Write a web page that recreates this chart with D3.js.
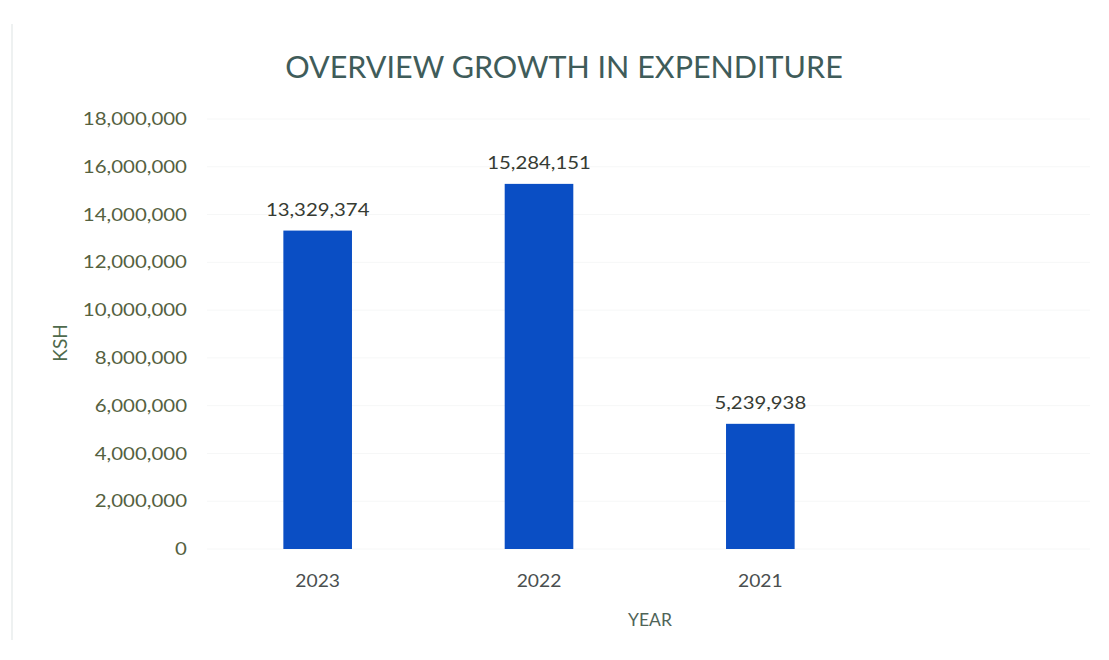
<!DOCTYPE html>
<html>
<head>
<meta charset="utf-8">
<script src="https://cdn.jsdelivr.net/npm/d3@7/dist/d3.min.js"></script>
<style>
  html, body { margin: 0; padding: 0; background: #ffffff; }
  svg { display: block; }
</style>
</head>
<body>
<svg id="chart" width="1109" height="660"></svg>
<script>
// Expenditure per year (KSH)
const years = ["2023", "2022", "2021"];
const expenditure = [13329374, 15284151, 5239938];
const yTicks = [0, 2000000, 4000000, 6000000, 8000000, 10000000, 12000000, 14000000, 16000000, 18000000];

const chartTitle = "OVERVIEW GROWTH IN EXPENDITURE";
const yTitle = "KSH";
const xTitle = "YEAR";

const svg = d3.select("#chart");
const fontFamily = "Lato, 'Open Sans', 'DejaVu Sans', sans-serif";

// Plot area
const plot = { left: 207, right: 871, top: 119, bottom: 549 };

const x = d3.scaleBand()
  .domain(years)
  .range([plot.left, plot.right])
  .paddingInner(0.69)
  .paddingOuter(0.345);

const y = d3.scaleLinear()
  .domain([0, 18000000])
  .range([plot.bottom, plot.top]);

const fmt = d3.format(",");

// Faint frame line on the left edge
svg.append("line")
  .attr("x1", 12).attr("x2", 12)
  .attr("y1", 24).attr("y2", 640)
  .attr("stroke", "#eef1f1").attr("stroke-width", 2);

// Gridlines (very faint)
svg.append("g")
  .selectAll("line")
  .data(yTicks)
  .join("line")
  .attr("x1", plot.left).attr("x2", 1090)
  .attr("y1", d => y(d)).attr("y2", d => y(d))
  .attr("stroke", "#f6f7f7").attr("stroke-width", 1);

// Title
svg.append("text")
  .attr("x", 564).attr("y", 78)
  .attr("text-anchor", "middle")
  .attr("font-family", fontFamily)
  .attr("font-size", 30.5)
  .attr("fill", "#3f5c5a")
  .text(chartTitle);

// Y axis labels (slightly wide lettering)
const yAxis = d3.axisLeft(y)
  .tickValues(yTicks)
  .tickFormat(fmt)
  .tickSize(0)
  .tickPadding(0);

const gy = svg.append("g")
  .attr("transform", `translate(${plot.left - 20},0)`)
  .call(yAxis);
gy.select(".domain").remove();
gy.selectAll("text")
  .attr("font-family", fontFamily)
  .attr("font-size", 17.5)
  .attr("fill", "#55613f")
  .attr("transform", "scale(1.17,1)");

// X axis labels
const xAxis = d3.axisBottom(x).tickSize(0).tickPadding(0);
const gx = svg.append("g")
  .attr("transform", `translate(0,${plot.bottom + 25})`)
  .call(xAxis);
gx.select(".domain").remove();
gx.selectAll("text")
  .attr("font-family", fontFamily)
  .attr("font-size", 18)
  .attr("fill", "#4a4f4f")
  .attr("transform", "scale(1.07,1)");

// Bars
svg.append("g")
  .selectAll("rect")
  .data(years)
  .join("rect")
  .attr("x", d => x(d))
  .attr("y", (d, i) => y(expenditure[i]))
  .attr("width", x.bandwidth())
  .attr("height", (d, i) => plot.bottom - y(expenditure[i]))
  .attr("fill", "#0a4ec4");

// Value labels
svg.append("g")
  .selectAll("text")
  .data(years)
  .join("text")
  .attr("transform", (d, i) =>
    `translate(${x(d) + x.bandwidth() / 2},${y(expenditure[i]) - 15}) scale(1.13,1)`)
  .attr("text-anchor", "middle")
  .attr("font-family", fontFamily)
  .attr("font-size", 18)
  .attr("fill", "#363b33")
  .text((d, i) => fmt(expenditure[i]));

// Axis titles
svg.append("text")
  .attr("transform", "translate(67,343) rotate(-90)")
  .attr("text-anchor", "middle")
  .attr("font-family", fontFamily)
  .attr("font-size", 19)
  .attr("fill", "#4f6a4c")
  .text(yTitle);

svg.append("text")
  .attr("x", 650).attr("y", 626)
  .attr("text-anchor", "middle")
  .attr("font-family", fontFamily)
  .attr("font-size", 17.5)
  .attr("fill", "#4f6458")
  .text(xTitle);
</script>
</body>
</html>
